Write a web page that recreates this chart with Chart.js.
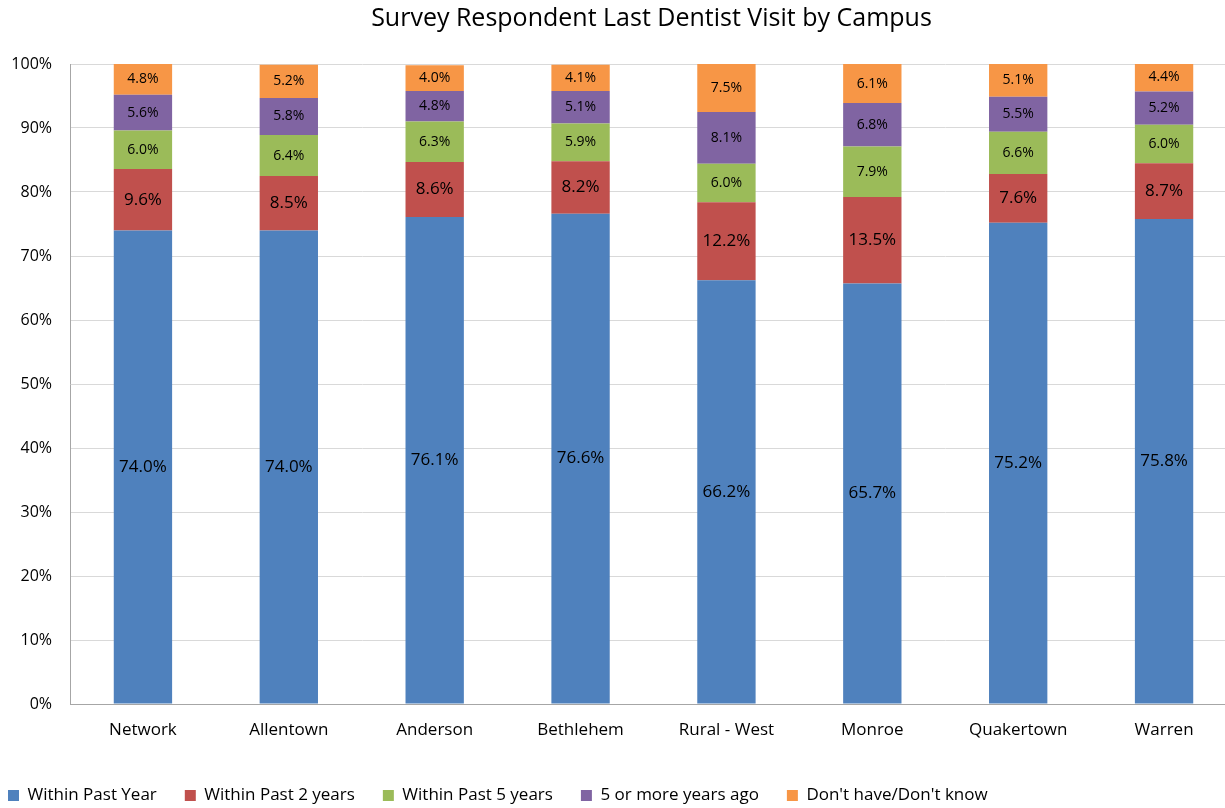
<!DOCTYPE html>
<html>
<head>
<meta charset="utf-8">
<script src="https://cdn.jsdelivr.net/npm/chart.js@4"></script>
<style>
  body { margin: 0; background: #fff; overflow: hidden; }
  #wrap { width: 1237px; height: 808px; }
</style>
</head>
<body>
<div id="wrap"><canvas id="dentist"></canvas></div>
<script>
const campuses = ['Network', 'Allentown', 'Anderson', 'Bethlehem', 'Rural - West', 'Monroe', 'Quakertown', 'Warren'];
const pastYear   = [74.0, 74.0, 76.1, 76.6, 66.2, 65.7, 75.2, 75.8];
const past2Years = [9.6, 8.5, 8.6, 8.2, 12.2, 13.5, 7.6, 8.7];
const past5Years = [6.0, 6.4, 6.3, 5.9, 6.0, 7.9, 6.6, 6.0];
const fivePlus   = [5.6, 5.8, 4.8, 5.1, 8.1, 6.8, 5.5, 5.2];
const dontKnow   = [4.8, 5.2, 4.0, 4.1, 7.5, 6.1, 5.1, 4.4];
const yTicks = [0, 10, 20, 30, 40, 50, 60, 70, 80, 90, 100];

const font = '"Open Sans", Lato, sans-serif';

// labels in the middle of each segment
const segmentLabels = {
  id: 'segmentLabels',
  afterLayout(chart) {
    // original title sits right of the visible centre (chart was cropped)
    chart.titleBlock.left += 43;
    chart.titleBlock.right += 43;
  },
  afterDatasetsDraw(chart) {
    const ctx = chart.ctx;
    ctx.save();
    ctx.textAlign = 'center';
    ctx.textBaseline = 'middle';
    ctx.fillStyle = '#000';
    chart.data.datasets.forEach((ds, i) => {
      const size = i < 2 ? 17 : 14;
      ctx.font = size + 'px ' + font;
      chart.getDatasetMeta(i).data.forEach((bar, j) => {
        const y = (bar.y + bar.base) / 2;
        ctx.fillText(ds.data[j].toFixed(1) + '%', bar.x, y);
      });
    });
    ctx.restore();
  }
};

const ctx = document.getElementById('dentist').getContext('2d');
const dentistChart = new Chart(ctx, {
  type: 'bar',
  data: {
    labels: campuses,
    datasets: [
      { label: 'Within Past Year', data: pastYear, backgroundColor: '#4F81BD' },
      { label: 'Within Past 2 years', data: past2Years, backgroundColor: '#C0504D' },
      { label: 'Within Past 5 years', data: past5Years, backgroundColor: '#9BBB59' },
      { label: '5 or more years ago', data: fivePlus, backgroundColor: '#8064A2' },
      { label: "Don't have/Don't know", data: dontKnow, backgroundColor: '#F79646' }
    ]
  },
  plugins: [segmentLabels],
  options: {
    responsive: true,
    maintainAspectRatio: false,
    animation: false,
    datasets: { bar: { barPercentage: 0.8, categoryPercentage: 0.5 } },
    layout: { padding: { left: -20, right: 0, top: 4, bottom: -6 } },
    plugins: {
      title: {
        display: true,
        text: 'Survey Respondent Last Dentist Visit by Campus',
        color: '#000',
        font: { family: font, size: 25, weight: 'normal' },
        padding: { top: 0, bottom: 30 }
      },
      legend: {
        position: 'bottom',
        align: 'start',
        labels: {
          color: '#000',
          font: { family: font, size: 17 },
          boxWidth: 11,
          boxHeight: 11,
          padding: 28
        }
      },
      tooltip: { enabled: false }
    },
    scales: {
      x: {
        stacked: true,
        grid: { display: false },
        border: { color: '#A6A6A6' },
        ticks: { color: '#000', font: { family: font, size: 17 }, padding: 8 },
        afterFit(scale) { scale.height = 55; }
      },
      y: {
        stacked: true,
        min: 0,
        max: 100,
        afterBuildTicks(scale) { scale.ticks = yTicks.map(v => ({ value: v })); },
        afterFit(scale) { scale.width = 90; },
        grid: { color: '#D9D9D9', drawTicks: false },
        border: { color: '#A6A6A6' },
        ticks: { color: '#000', font: { family: font, size: 16 }, padding: 18, callback: v => v + '%' }
      }
    }
  }
});
</script>
</body>
</html>
